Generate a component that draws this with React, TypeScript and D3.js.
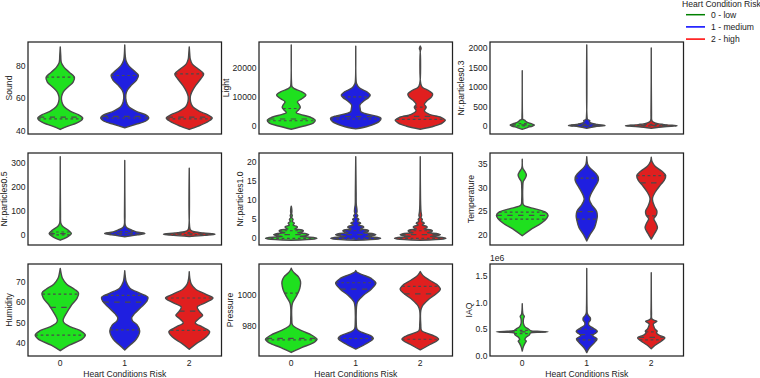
import * as d3 from "d3"

type Pt = [number, number] // [value, relative density 0..1]

const categories = ["0", "1", "2"]
const violinFills = ["#1fe01f", "#1f1fe0", "#e01f1f"]
const legendTitle = "Heart Condition Risk"
const legendLabels = ["0 - low", "1 - medium", "2 - high"]
const legendColors = ["green", "blue", "red"]
const xTitle = "Heart Conditions Risk"

// Sound
const soundTicks = [40, 60, 80]
const soundDomain: [number, number] = [38.2, 94.5]
const soundLow: Pt[] = [[41, 0], [43, 0.3], [45, 0.65], [47, 0.85], [48, 0.87], [50, 0.7], [52, 0.4], [55, 0.15], [58, 0.06], [61, 0.05], [64, 0.12], [67, 0.3], [70, 0.5], [73, 0.55], [76, 0.35], [79, 0.15], [82, 0.04], [86, 0.02], [91.5, 0]]
const soundMedium: Pt[] = [[42, 0], [44, 0.4], [46, 0.8], [48, 0.93], [50, 0.8], [52, 0.45], [55, 0.15], [58, 0.06], [62, 0.04], [65, 0.1], [68, 0.25], [71, 0.45], [74, 0.53], [77, 0.35], [80, 0.15], [83, 0.05], [86, 0.02], [92.7, 0]]
const soundHigh: Pt[] = [[41, 0], [43, 0.35], [46, 0.75], [48, 0.89], [50, 0.7], [52, 0.4], [55, 0.13], [58, 0.05], [61, 0.04], [64, 0.1], [68, 0.25], [72, 0.45], [75, 0.56], [78, 0.35], [81, 0.12], [84, 0.04], [87, 0.02], [91.5, 0]]
const soundQuartiles = [[47.5, 48.5, 73], [48, 49, 74], [47.5, 48.5, 75]]

// Light
const lightTicks = [0, 10000, 20000]
const lightDomain: [number, number] = [-2740, 28800]
const lightLow: Pt[] = [[-1100, 0], [0, 0.5], [1000, 0.85], [2000, 0.93], [3000, 0.75], [4000, 0.35], [4600, 0.19], [5500, 0.28], [6400, 0.35], [7400, 0.3], [8300, 0.24], [9300, 0.4], [10600, 0.57], [11800, 0.4], [12800, 0.12], [13500, 0.03], [15000, 0.01], [27800, 0]]
const lightMedium: Pt[] = [[-1000, 0], [0, 0.5], [1500, 0.9], [2600, 0.98], [3500, 0.75], [4300, 0.35], [4900, 0.2], [6000, 0.17], [7200, 0.16], [8500, 0.3], [9800, 0.5], [10600, 0.56], [11800, 0.42], [13000, 0.15], [14600, 0.03], [16000, 0.01], [27400, 0]]
const lightHigh: Pt[] = [[-1100, 0], [0, 0.55], [1000, 0.85], [2000, 0.97], [3000, 0.8], [4000, 0.35], [5260, 0.16], [6400, 0.23], [7500, 0.16], [8800, 0.28], [10000, 0.44], [11000, 0.48], [12000, 0.35], [13300, 0.08], [14500, 0.02], [26000, 0.01], [26400, 0.03], [26800, 0.03], [27400, 0]]
const lightQuartiles = [[1800, 2400, 6000], [2400, 3200, 10000], [2300, 3300, 6500]]

// Nr.particles0.3
const p03Ticks = [0, 500, 1000, 1500, 2000]
const p03Domain: [number, number] = [-206, 2162]
const p03Low: Pt[] = [[-85, 0], [-40, 0.2], [0, 0.4], [26, 0.47], [60, 0.35], [100, 0.18], [130, 0.12], [150, 0.1], [173, 0.02], [250, 0.01], [1425, 0]]
const p03Medium: Pt[] = [[-60, 0], [-20, 0.3], [0, 0.55], [10, 0.71], [40, 0.4], [80, 0.15], [120, 0.1], [140, 0.12], [170, 0.03], [250, 0.01], [2088, 0]]
const p03High: Pt[] = [[-60, 0], [-20, 0.5], [5, 1.0], [30, 0.6], [60, 0.25], [100, 0.08], [150, 0.02], [300, 0.01], [2010, 0]]
const p03Quartiles = [[5, 30, 60], [5, 20, 50], [3, 15, 40]]

// Nr.particles0.5
const p05Ticks = [0, 100, 200, 300]
const p05Domain: [number, number] = [-42, 340]
const p05Low: Pt[] = [[-22, 0], [-10, 0.25], [6, 0.43], [20, 0.3], [37, 0.08], [50, 0.02], [80, 0.01], [325, 0]]
const p05Medium: Pt[] = [[-8, 0], [0, 0.5], [6, 0.78], [12, 0.45], [20, 0.27], [28, 0.1], [40, 0.02], [80, 0.01], [309, 0]]
const p05High: Pt[] = [[-7, 0], [-2, 0.6], [3, 1.0], [8, 0.55], [14, 0.15], [22, 0.04], [40, 0.01], [277, 0]]
const p05Quartiles = [[0, 5, 12], [3, 7, 14], [1, 4, 9]]

// Nr.particles1.0
const p10Ticks = [0, 5, 10, 15, 20]
const p10Domain: [number, number] = [-1.75, 22.5]
const p10Low: Pt[] = [[-0.5, 0], [-0.2, 0.9], [0, 1.0], [0.2, 0.9], [0.5, 0.35], [0.8, 0.62], [1, 0.68], [1.2, 0.6], [1.5, 0.25], [1.8, 0.44], [2, 0.47], [2.2, 0.42], [2.5, 0.13], [2.8, 0.22], [3, 0.24], [3.2, 0.2], [3.5, 0.07], [4, 0.12], [4.5, 0.04], [5, 0.07], [5.5, 0.02], [6, 0.04], [6.5, 0.015], [7, 0.025], [8, 0.015], [8.5, 0]]
const p10Medium: Pt[] = [[-0.5, 0], [-0.2, 0.87], [0, 0.97], [0.2, 0.87], [0.5, 0.4], [0.8, 0.72], [1, 0.78], [1.2, 0.7], [1.5, 0.3], [1.8, 0.46], [2, 0.5], [2.2, 0.45], [2.5, 0.18], [2.8, 0.28], [3, 0.31], [3.2, 0.27], [3.5, 0.1], [4, 0.19], [4.5, 0.07], [5, 0.12], [5.5, 0.04], [6, 0.08], [6.5, 0.03], [7, 0.05], [8, 0.04], [9, 0.02], [12, 0.015], [21.5, 0]]
const p10High: Pt[] = [[-0.5, 0], [-0.2, 0.9], [0, 1.0], [0.2, 0.9], [0.5, 0.4], [0.8, 0.72], [1, 0.78], [1.2, 0.7], [1.5, 0.28], [1.8, 0.44], [2, 0.47], [2.2, 0.42], [2.5, 0.15], [2.8, 0.25], [3, 0.27], [3.2, 0.23], [3.5, 0.08], [4, 0.155], [4.5, 0.05], [5, 0.08], [5.5, 0.03], [6, 0.05], [7, 0.03], [9, 0.015], [21.5, 0]]
const p10Quartiles = [[0, 1, 2], [0, 1, 2], [0, 1, 2]]

// Temperature
const tempTicks = [20, 25, 30, 35]
const tempDomain: [number, number] = [17.85, 37.3]
const tempLow: Pt[] = [[19.8, 0], [21, 0.3], [22.5, 0.75], [23.5, 0.95], [24.1, 1.0], [24.8, 0.9], [25.5, 0.5], [26, 0.15], [26.4, 0.04], [27.5, 0.02], [30, 0.02], [31.3, 0.04], [32, 0.12], [32.7, 0.16], [33.4, 0.1], [34.1, 0.02], [36, 0]]
const tempMedium: Pt[] = [[18.7, 0], [20, 0.12], [21.5, 0.3], [23, 0.38], [24, 0.41], [25, 0.38], [26.3, 0.2], [27.5, 0.1], [28.5, 0.15], [30, 0.3], [31.2, 0.43], [32.1, 0.45], [33, 0.35], [34.3, 0.1], [35, 0.03], [36.5, 0]]
const tempHigh: Pt[] = [[19.1, 0], [20.3, 0.13], [21.5, 0.24], [22.6, 0.17], [23.4, 0.1], [24.2, 0.2], [25, 0.22], [26, 0.13], [27, 0.06], [27.8, 0.05], [29, 0.15], [30.5, 0.35], [31.5, 0.5], [32.5, 0.56], [33.5, 0.4], [34.5, 0.15], [35.5, 0.03], [36.4, 0]]
const tempQuartiles = [[23.3, 24.1, 24.8], [23.3, 24.9, 32], [24, 31, 32.5]]

// Humidity
const humTicks = [40, 50, 60, 70]
const humDomain: [number, number] = [33.7, 78.9]
const humLow: Pt[] = [[36.3, 0], [39, 0.35], [42, 0.85], [44, 0.97], [46, 0.8], [48, 0.4], [50, 0.15], [51.3, 0.11], [53, 0.16], [56, 0.3], [59, 0.45], [62, 0.65], [64.6, 0.71], [66.5, 0.55], [69, 0.25], [72, 0.08], [74.5, 0.03], [76.7, 0]]
const humMedium: Pt[] = [[36.6, 0], [39, 0.2], [42, 0.45], [46, 0.58], [49, 0.48], [51, 0.3], [52.5, 0.27], [54.5, 0.38], [57.5, 0.62], [60.5, 0.85], [62.5, 0.9], [64.5, 0.6], [67, 0.2], [70, 0.06], [73, 0.02], [75.6, 0]]
const humHigh: Pt[] = [[37, 0], [40, 0.3], [43, 0.65], [45.7, 0.79], [48, 0.5], [50, 0.23], [52, 0.37], [53.7, 0.52], [55.5, 0.4], [57.8, 0.31], [60, 0.65], [62.2, 0.92], [64, 0.65], [66.5, 0.25], [69, 0.08], [72, 0.02], [75.1, 0]]
const humQuartiles = [[44, 57.6, 64.1], [46.5, 60.2, 63.5], [46.3, 55.7, 62.2]]

// Pressure
const presTicks = [980, 1000]
const presDomain: [number, number] = [960.5, 1020.4]
const presLow: Pt[] = [[962.8, 0], [966, 0.4], [969, 0.85], [971.4, 1.0], [974, 0.8], [977, 0.4], [979.5, 0.12], [981, 0.04], [985, 0.02], [992, 0.02], [995, 0.05], [999, 0.18], [1003, 0.3], [1006, 0.35], [1009, 0.36], [1012, 0.28], [1014.5, 0.12], [1016.5, 0.03], [1017.7, 0]]
const presMedium: Pt[] = [[965, 0], [968, 0.35], [971.9, 0.68], [974, 0.55], [976, 0.22], [978, 0.05], [982, 0.02], [990, 0.02], [994, 0.04], [996, 0.08], [1000, 0.3], [1004, 0.6], [1008, 0.78], [1011, 0.6], [1013.5, 0.25], [1015, 0.05], [1016.1, 0]]
const presHigh: Pt[] = [[964.5, 0], [968, 0.38], [971.4, 0.71], [973.5, 0.55], [975.5, 0.22], [977, 0.05], [981, 0.02], [990, 0.02], [993, 0.08], [997, 0.3], [1001, 0.62], [1004, 0.78], [1007, 0.65], [1010, 0.35], [1013, 0.1], [1015.5, 0]]
const presQuartiles = [[971, 972, 1001.5], [971.9, 1004, 1008.2], [971.4, 1001, 1005.8]]

// IAQ (x 1e6)
const iaqTicks = [0, 0.5, 1.0, 1.5]
const iaqDomain: [number, number] = [0, 1.72]
const iaqLow: Pt[] = [[0.093, 0], [0.18, 0.05], [0.25, 0.12], [0.278, 0.155], [0.31, 0.1], [0.35, 0.15], [0.39, 0.27], [0.43, 0.32], [0.445, 0.7], [0.452, 1.0], [0.46, 0.7], [0.475, 0.32], [0.5, 0.25], [0.55, 0.1], [0.6, 0.05], [0.7, 0.05], [0.74, 0.08], [0.78, 0.03], [0.976, 0]]
const iaqMedium: Pt[] = [[0.063, 0], [0.15, 0.1], [0.25, 0.3], [0.322, 0.4], [0.38, 0.23], [0.42, 0.32], [0.463, 0.41], [0.52, 0.25], [0.58, 0.08], [0.63, 0.08], [0.67, 0.14], [0.71, 0.14], [0.76, 0.06], [0.8, 0.02], [0.9, 0.01], [1.637, 0]]
const iaqHigh: Pt[] = [[0.137, 0], [0.2, 0.15], [0.28, 0.4], [0.34, 0.53], [0.39, 0.3], [0.43, 0.2], [0.463, 0.23], [0.5, 0.15], [0.55, 0.1], [0.6, 0.08], [0.648, 0.22], [0.67, 0.1], [0.7, 0.02], [0.8, 0.01], [1.556, 0]]
const iaqQuartiles = [[0.42, 0.45, 0.48], [0.3, 0.4, 0.5], [0.3, 0.35, 0.45]]

interface PanelSpec {
  label: string
  ticks: number[]
  domain: [number, number]
  violins: Pt[][]
  quartiles: number[][]
  fmt: (v: number) => string
  offset?: string
}

const plain = (v: number) => String(v)

const panels: PanelSpec[] = [
  { label: "Sound", ticks: soundTicks, domain: soundDomain, violins: [soundLow, soundMedium, soundHigh], quartiles: soundQuartiles, fmt: plain },
  { label: "Light", ticks: lightTicks, domain: lightDomain, violins: [lightLow, lightMedium, lightHigh], quartiles: lightQuartiles, fmt: plain },
  { label: "Nr.particles0.3", ticks: p03Ticks, domain: p03Domain, violins: [p03Low, p03Medium, p03High], quartiles: p03Quartiles, fmt: plain },
  { label: "Nr.particles0.5", ticks: p05Ticks, domain: p05Domain, violins: [p05Low, p05Medium, p05High], quartiles: p05Quartiles, fmt: plain },
  { label: "Nr.particles1.0", ticks: p10Ticks, domain: p10Domain, violins: [p10Low, p10Medium, p10High], quartiles: p10Quartiles, fmt: plain },
  { label: "Temperature", ticks: tempTicks, domain: tempDomain, violins: [tempLow, tempMedium, tempHigh], quartiles: tempQuartiles, fmt: plain },
  { label: "Humidity", ticks: humTicks, domain: humDomain, violins: [humLow, humMedium, humHigh], quartiles: humQuartiles, fmt: plain },
  { label: "Pressure", ticks: presTicks, domain: presDomain, violins: [presLow, presMedium, presHigh], quartiles: presQuartiles, fmt: plain },
  { label: "IAQ", ticks: iaqTicks, domain: iaqDomain, violins: [iaqLow, iaqMedium, iaqHigh], quartiles: iaqQuartiles, fmt: d3.format(".1f"), offset: "1e6" },
]

const W = 760
const H = 378
const colLeft = [28, 259, 490]
const rowTop = [42, 153, 264]
const panelW = 193.5
const panelH = 92
const fontSize = 8.6
const font = "'Liberation Sans', Arial, sans-serif"
const textColor = "#222"
const edgeColor = "#4a4a4a"

// rough label width (Arial metrics) so the y title sits clear of the tick labels
function labelWidth(s: string) {
  let w = 0
  for (const ch of s) w += ch === "." ? 0.278 : 0.556
  return w * fontSize
}

// width of the density at value v
function densityAt(profile: Pt[], v: number) {
  for (let i = 0; i < profile.length - 1; i++) {
    const [a, wa] = profile[i]
    const [b, wb] = profile[i + 1]
    if (v >= a && v <= b) return wa + ((v - a) / (b - a)) * (wb - wa)
  }
  return 0
}

function Panel({ spec, left, top, showX }: { spec: PanelSpec; left: number; top: number; showX: boolean }) {
  const x = d3.scaleBand<string>().domain(categories).range([left, left + panelW])
  const y = d3.scaleLinear().domain(spec.domain).range([top + panelH, top])
  const half = d3.scaleLinear().domain([0, 1]).range([0, x.bandwidth() * 0.4])
  const maxTick = d3.max(spec.ticks, (t) => labelWidth(spec.fmt(t))) ?? 0
  const titleX = left - 2.5 - maxTick - 7

  return (
    <g>
      {spec.violins.map((profile, i) => {
        const cx = (x(categories[i]) ?? 0) + x.bandwidth() / 2
        const area = d3
          .area<Pt>()
          .x0((d) => cx - half(d[1]))
          .x1((d) => cx + half(d[1]))
          .y((d) => y(d[0]))
          .curve(d3.curveCatmullRom)
        return (
          <g key={i}>
            <path d={area(profile) ?? ""} fill={violinFills[i]} stroke={edgeColor} strokeWidth={1.4} strokeLinejoin="round" />
            {spec.quartiles[i].map((q, j) => {
              const w = half(densityAt(profile, q))
              return (
                <line
                  key={j}
                  x1={cx - w}
                  x2={cx + w}
                  y1={y(q)}
                  y2={y(q)}
                  stroke={edgeColor}
                  strokeWidth={1.2}
                  strokeDasharray={j === 1 ? "5.4,5.4" : "2.7,2.7"}
                />
              )
            })}
          </g>
        )
      })}
      <rect x={left} y={top} width={panelW} height={panelH} fill="none" stroke={textColor} strokeWidth={1.25} />
      {spec.ticks.map((t) => (
        <text key={t} x={left - 2.5} y={y(t)} dy="0.35em" textAnchor="end" fontSize={fontSize} fill={textColor}>
          {spec.fmt(t)}
        </text>
      ))}
      <text
        transform={`translate(${titleX},${top + panelH / 2}) rotate(-90)`}
        textAnchor="middle"
        dy="0.35em"
        fontSize={fontSize}
        fill={textColor}
      >
        {spec.label}
      </text>
      {spec.offset && (
        <text x={left} y={top - 3} fontSize={fontSize} fill={textColor}>
          {spec.offset}
        </text>
      )}
      {showX && (
        <g>
          {categories.map((c) => (
            <text key={c} x={(x(c) ?? 0) + x.bandwidth() / 2} y={top + panelH + 9.5} textAnchor="middle" fontSize={fontSize} fill={textColor}>
              {c}
            </text>
          ))}
          <text x={left + panelW / 2} y={top + panelH + 20.5} textAnchor="middle" fontSize={fontSize} fill={textColor}>
            {xTitle}
          </text>
        </g>
      )}
    </g>
  )
}

export default function App() {
  return (
    <svg width={W} height={H} style={{ position: "absolute", left: 0, top: 0, background: "#fff" }} fontFamily={font}>
      {panels.map((p, i) => (
        <Panel key={p.label} spec={p} left={colLeft[i % 3]} top={rowTop[Math.floor(i / 3)]} showX={i >= 6} />
      ))}
      <g>
        <text x={682} y={7} fontSize={fontSize} fill={textColor}>
          {legendTitle}
        </text>
        {legendLabels.map((l, i) => (
          <g key={l}>
            <line x1={686} x2={705} y1={14.7 + i * 12.2} y2={14.7 + i * 12.2} stroke={legendColors[i]} strokeWidth={1.5} />
            <text x={711} y={14.7 + i * 12.2} dy="0.35em" fontSize={fontSize} fill={textColor}>
              {l}
            </text>
          </g>
        ))}
      </g>
    </svg>
  )
}
